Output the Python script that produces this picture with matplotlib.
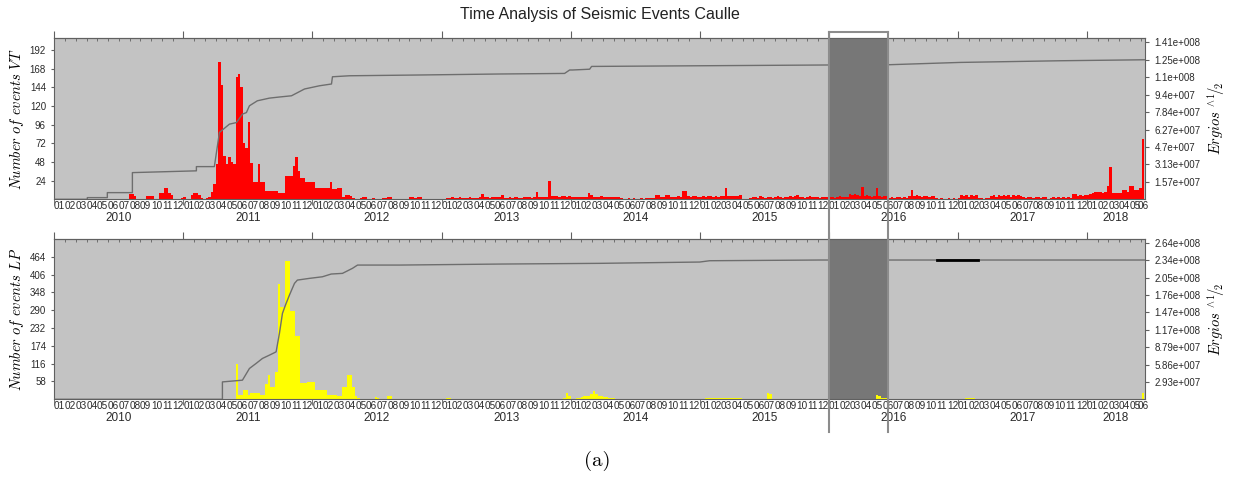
import matplotlib
matplotlib.use('Agg')
import matplotlib.pyplot as plt
import matplotlib.transforms as mtransforms
import numpy as np

plt.rcParams['font.family'] = ['Liberation Sans', 'DejaVu Sans']
plt.rcParams['mathtext.fontset'] = 'cm'

years = [2010, 2011, 2012, 2013, 2014, 2015, 2016, 2017, 2018]
x_end = 101.4  # months since Jan 2010 (mid June 2018)

# weekly VT counts, one list per year
vt_2010 = [0, 0, 0, 0, 0, 0, 0, 0, 0, 0, 0, 0, 0, 0, 0, 0, 0, 0, 0, 0,
           0, 0, 0, 0, 0, 0, 0, 0, 0, 0, 7, 7, 4, 1, 1, 0, 1, 4, 4, 4,
           1, 1, 8, 8, 15, 15, 8, 6, 1, 0, 1, 2]
vt_2011 = [3, 1, 0, 5, 8, 8, 6, 2, 1, 2, 3, 10, 20, 45, 176, 147, 56, 46, 54, 48,
           46, 157, 161, 145, 73, 66, 99, 47, 22, 22, 45, 22, 22, 11, 11, 11, 11, 11, 8, 8,
           8, 30, 30, 30, 43, 54, 37, 28, 28, 22, 22, 22]
vt_2012 = [22, 14, 14, 14, 14, 14, 14, 22, 13, 13, 15, 15, 3, 5, 5, 4, 2, 1, 1, 2,
           3, 3, 1, 1, 2, 1, 1, 1, 2, 2, 3, 3, 1, 1, 1, 1, 0, 1, 1, 3,
           3, 2, 3, 3, 1, 0, 1, 1, 0, 1, 1, 1]
vt_2013 = [1, 1, 2, 2, 3, 2, 2, 3, 2, 2, 2, 3, 2, 2, 2, 3, 7, 3, 3, 2,
           3, 3, 3, 3, 5, 2, 2, 3, 2, 3, 3, 2, 2, 3, 3, 3, 2, 3, 10, 3,
           3, 3, 3, 23, 4, 4, 4, 3, 4, 4, 3, 4]
vt_2014 = [3, 3, 3, 3, 3, 3, 3, 8, 5, 3, 3, 3, 4, 3, 3, 3, 3, 3, 3, 3,
           2, 1, 1, 2, 1, 2, 1, 1, 2, 1, 2, 2, 2, 2, 5, 5, 3, 3, 6, 6,
           3, 3, 3, 4, 3, 11, 11, 4, 3, 4, 4, 3]
vt_2015 = [3, 4, 3, 4, 4, 3, 4, 3, 4, 4, 15, 4, 4, 4, 4, 4, 6, 1, 1, 1,
           2, 3, 3, 2, 4, 3, 2, 3, 3, 2, 3, 4, 3, 2, 3, 3, 4, 3, 4, 6,
           3, 3, 2, 3, 4, 3, 3, 3, 2, 3, 3, 3]
vt_2016 = [3, 3, 2, 3, 4, 3, 3, 3, 7, 6, 7, 6, 4, 16, 4, 5, 4, 3, 4, 15,
           4, 3, 4, 4, 2, 3, 2, 3, 3, 2, 3, 2, 4, 12, 4, 5, 4, 3, 4, 4,
           3, 4, 4, 2, 1, 2, 1, 1, 2, 1, 2, 1]
vt_2017 = [2, 5, 4, 5, 3, 5, 4, 5, 2, 2, 1, 2, 2, 4, 5, 3, 5, 4, 6, 4,
           5, 3, 5, 4, 5, 4, 3, 2, 3, 3, 2, 3, 3, 2, 3, 3, 1, 2, 3, 2,
           3, 2, 3, 2, 3, 2, 7, 7, 4, 5, 4, 5]
vt_2018 = [6, 7, 8, 9, 10, 9, 8, 10, 17, 41, 8, 8, 8, 8, 12, 12, 10, 17, 17, 12,
           12, 15, 78]

# weekly LP counts
lp_2010 = [0, 0, 0, 0, 0, 0, 0, 0, 0, 0, 0, 0, 0, 0, 0, 0, 0, 0, 0, 0,
           0, 0, 0, 0, 0, 0, 0, 0, 0, 0, 0, 0, 0, 0, 0, 0, 0, 0, 0, 0,
           0, 0, 0, 0, 0, 0, 0, 0, 0, 0, 0, 0]
lp_2011 = [0, 0, 0, 0, 0, 0, 0, 0, 0, 0, 0, 0, 0, 0, 0, 0, 0, 0, 0, 0,
           0, 116, 15, 15, 29, 29, 15, 22, 22, 22, 22, 15, 15, 51, 78, 40, 40, 90, 376, 300,
           300, 451, 451, 289, 289, 207, 207, 53, 53, 53, 55, 55]
lp_2012 = [55, 30, 30, 30, 30, 30, 15, 15, 15, 15, 10, 10, 40, 40, 78, 78, 40, 10, 3, 2,
           1, 1, 0, 0, 2, 6, 3, 0, 1, 2, 12, 12, 2, 0, 0, 0, 1, 0, 0, 0,
           0, 0, 0, 0, 0, 0, 0, 0, 0, 0, 0, 0]
lp_2013 = [0, 0, 3, 3, 2, 2, 0, 0, 0, 0, 0, 0, 0, 0, 0, 2, 2, 1, 2, 2,
           1, 2, 0, 0, 0, 1, 1, 0, 0, 0, 0, 0, 0, 0, 0, 0, 0, 0, 0, 0,
           0, 1, 1, 0, 0, 0, 0, 0, 0, 3, 20, 12]
lp_2014 = [1, 2, 3, 5, 8, 10, 10, 12, 18, 26, 18, 12, 10, 8, 6, 5, 4, 3, 1, 1,
           0, 0, 1, 0, 0, 0, 0, 0, 0, 0, 0, 1, 0, 0, 0, 0, 0, 0, 0, 0,
           0, 0, 0, 0, 0, 0, 0, 0, 0, 0, 0, 0]
lp_2015 = [2, 2, 3, 3, 4, 3, 4, 5, 5, 5, 4, 4, 3, 4, 3, 3, 3, 2, 1, 0,
           0, 0, 0, 0, 0, 0, 1, 20, 18, 2, 1, 0, 0, 0, 0, 0, 0, 0, 0, 0,
           0, 0, 0, 0, 0, 0, 0, 0, 0, 0, 0, 0]
lp_2016 = [0, 0, 0, 0, 0, 0, 0, 0, 0, 0, 0, 0, 0, 0, 0, 0, 0, 0, 0, 14,
           10, 3, 3, 3, 2, 0, 0, 0, 0, 0, 0, 0, 0, 0, 0, 0, 0, 0, 0, 0,
           0, 0, 0, 0, 0, 0, 0, 0, 0, 0, 0, 0]
lp_2017 = [0, 0, 0, 3, 4, 4, 3, 0, 0, 0, 0, 0, 0, 0, 0, 0, 0, 0, 0, 0,
           0, 0, 0, 0, 0, 0, 0, 0, 0, 0, 0, 0, 0, 0, 0, 0, 0, 0, 0, 0,
           0, 0, 0, 0, 0, 0, 0, 0, 0, 0, 0, 0]
lp_2018 = [0, 0, 0, 0, 0, 0, 0, 0, 0, 0, 0, 0, 0, 0, 0, 0, 0, 0, 0, 0,
           0, 2, 20]

vt_weekly = [vt_2010, vt_2011, vt_2012, vt_2013, vt_2014, vt_2015, vt_2016, vt_2017, vt_2018]
lp_weekly = [lp_2010, lp_2011, lp_2012, lp_2013, lp_2014, lp_2015, lp_2016, lp_2017, lp_2018]

# cumulative energy (x in months since Jan 2010, value in 1e7 ergios^1/2)
vt_cum_x = [0, 3.07, 3.07, 4.93, 4.93, 7.26, 7.26, 13.21, 13.21, 14.88,
            15.35, 16.28, 16.93, 17.49, 17.86, 18.14, 18.88, 20.0, 20.93, 22.05,
            23.26, 24.65, 25.77, 25.86, 27.44, 33.95, 41.40, 47.44, 47.91, 48.19,
            49.77, 49.95, 60.0, 71.95, np.nan, 77.49, 84.19, 93.49, 101.4]
vt_cum_y = [0, 0, 0.15, 0.15, 0.60, 0.60, 2.40, 2.56, 2.94, 2.94,
            6.01, 6.76, 6.90, 7.66, 7.80, 8.41, 8.86, 9.10, 9.20, 9.31,
            9.92, 10.21, 10.37, 11.02, 11.11, 11.18, 11.27, 11.32, 11.63, 11.63,
            11.70, 11.95, 12.01, 12.08, np.nan, 12.10, 12.31, 12.46, 12.55]
lp_cum_x = [0, 15.63, 15.63, 17.49, 18.14, 18.76, 19.35, 20.0, 20.62, 20.93,
            21.21, 21.49, 21.86, 22.33, 22.60, 23.72, 24.93, 25.74, 26.79, 27.72,
            28.19, 32.09, 41.40, 50.70, 60.0, 60.93, 71.16, 71.95, np.nan, 77.49,
            101.4]
lp_cum_y = [0, 0, 2.93, 3.22, 5.19, 6.04, 6.88, 7.44, 7.99, 11.10,
            14.47, 15.87, 17.55, 19.53, 20.08, 20.37, 20.64, 21.10, 21.21, 22.06,
            22.61, 22.61, 22.78, 22.90, 23.12, 23.34, 23.46, 23.46, np.nan, 23.46,
            23.46]
lp_mark_x = [82.05, 85.86]
lp_mark_y = [23.46, 23.46]

band = (72.0, 77.5)

vt_ticks = [24, 48, 72, 96, 120, 144, 168, 192]
lp_ticks = [58, 116, 174, 232, 290, 348, 406, 464]
vt_right_labels = ['1.57e+007', '3.13e+007', '4.7e+007', '6.27e+007', '7.84e+007',
                   '9.4e+007', '1.1e+008', '1.25e+008', '1.41e+008']
lp_right_labels = ['2.93e+007', '5.86e+007', '8.79e+007', '1.17e+008', '1.47e+008',
                   '1.76e+008', '2.05e+008', '2.34e+008', '2.64e+008']
month_labels = ['01', '02', '03', '04', '05', '06', '07', '08', '09', '10', '11', '12']

W, H = 1233, 478
fig = plt.figure(figsize=(W / 100, H / 100), dpi=100)
ax_vt = fig.add_axes([54.3 / W, 1 - 199.3 / H, (1145 - 54.3) / W, 161 / H])
ax_lp = fig.add_axes([54.3 / W, 1 - 399.3 / H, (1145 - 54.3) / W, 160 / H])

bg = '#c3c3c3'
band_color = '#777777'
line_color = '#6e6e6e'
spine_color = '#606060'
text_color = '#2a2a2a'

n_months = int(np.ceil(x_end))
month_starts = np.arange(n_months)
month_centers = (month_starts + np.minimum(month_starts + 1, x_end)) / 2
month_text = [month_labels[i % 12] for i in month_starts]
year_starts = np.array([(y - 2010) * 12 for y in years])
year_centers = (year_starts + np.minimum(year_starts + 12, x_end)) / 2


def draw_panel(ax, weekly, color, ylim, yticks, cum_x, cum_y, rlim, rstep, rlabels,
               ylabel):
    ax.set_facecolor(bg)
    ax.axvspan(band[0], band[1], color=band_color, zorder=0.5, lw=0)
    for i, vals in enumerate(weekly):
        x = (years[i] - 2010) * 12 + np.arange(len(vals)) * 12 / 52
        ax.bar(x, vals, width=12 / 52, align='edge', color=color, lw=0, zorder=2)
    ax.set_xlim(0, x_end)
    ax.set_ylim(*ylim)
    ax.set_yticks(yticks)
    ax.tick_params(axis='y', labelsize=7, length=2, pad=4, color=spine_color,
                   labelcolor=text_color)
    ax.set_xticks(month_centers, month_text)
    ax.tick_params(axis='x', which='major', length=0, labelsize=7.2, pad=1.5,
                   labelcolor=text_color)
    ax.set_xticks(year_starts, minor=True)
    ax.tick_params(axis='x', which='minor', length=4, direction='out', color=spine_color)
    sec = ax.secondary_xaxis('top')
    sec.set_xticks(year_starts, [''] * len(year_starts))
    sec.tick_params(length=5, direction='out', color=spine_color)
    sec.set_xticks(month_starts, minor=True)
    sec.tick_params(which='minor', length=2, direction='in', color=spine_color)
    sec.spines['top'].set_color(spine_color)
    trans = mtransforms.blended_transform_factory(ax.transData, ax.transAxes)
    for xc, y in zip(year_centers, years):
        ax.text(xc, -0.115, str(y), transform=trans, ha='center', va='center',
                fontsize=8.5, color=text_color)
    for s in ax.spines.values():
        s.set_color(spine_color)
        s.set_linewidth(0.8)
    ax.set_ylabel(ylabel, fontsize=10.5, va='center')
    ax.yaxis.set_label_coords(-0.034, 0.5)

    ax2 = ax.twinx()
    ax2.plot(cum_x, cum_y, color=line_color, lw=1)
    ax2.set_ylim(*rlim)
    ax2.set_yticks([rstep * (k + 1) for k in range(len(rlabels))], rlabels)
    ax2.tick_params(axis='y', labelsize=7, length=3, pad=4, color=spine_color,
                    labelcolor=text_color)
    for s in ax2.spines.values():
        s.set_visible(False)
    ax2.set_ylabel(r'$Ergios\ ^{\wedge}{}^{1}\!/\!{}_{2}$', fontsize=10.5,
                   rotation=90, va='center')
    ax2.yaxis.set_label_coords(1.065, 0.5)
    return ax2


draw_panel(ax_vt, vt_weekly, '#ff0000', (0, 207), vt_ticks, vt_cum_x, vt_cum_y,
           (0, 14.48), 1.568, vt_right_labels, r'$Number\ of\ events\ VT$')
ax_lp2 = draw_panel(ax_lp, lp_weekly, '#ffff00', (0, 521), lp_ticks, lp_cum_x, lp_cum_y,
                    (0, 26.95), 2.93, lp_right_labels, r'$Number\ of\ events\ LP$')
ax_lp2.plot(lp_mark_x, lp_mark_y, color='black', lw=2)

# selection outline crossing both panels
btrans = mtransforms.blended_transform_factory(ax_vt.transData, fig.transFigure)
y_top = 1 - 32 / H
y_bot = 1 - 432 / H
outline = '#8c8c8c'
for xb in band:
    fig.add_artist(plt.Line2D([xb, xb], [y_top, y_bot], transform=btrans,
                              color=outline, lw=1.5))
fig.add_artist(plt.Line2D([band[0], band[1]], [y_top, y_top], transform=btrans,
                          color=outline, lw=1.5))

fig.text(600 / W, 1 - 14 / H, 'Time Analysis of Seismic Events Caulle', ha='center',
         va='center', fontsize=11.5, color='#222222')
fig.text(597 / W, 1 - 461 / H, '(a)', ha='center', va='center', fontsize=15,
         family='cmr10')

fig.savefig('out.png', dpi=100)
